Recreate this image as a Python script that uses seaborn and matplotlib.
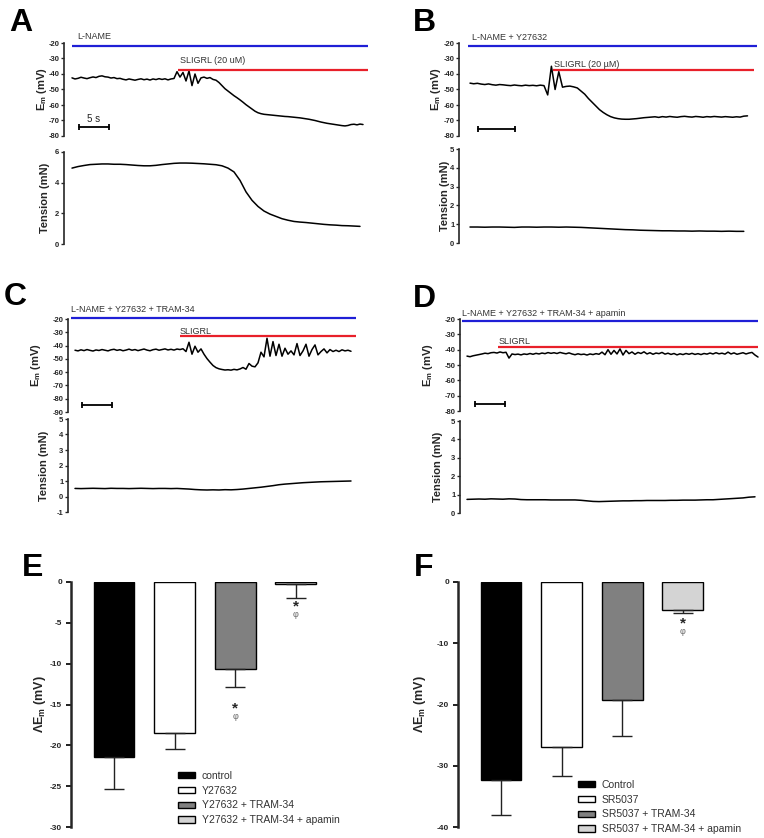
import numpy as np
import pandas as pd
import matplotlib
matplotlib.use("Agg")
import matplotlib.pyplot as plt
import seaborn as sns

# ---------------- data ----------------
EM_DT = 0.5    # s between membrane potential samples
TEN_DT = 1.0   # s between tension samples

# Em traces (mV)
em_a = [-42.5, -43.2, -42.8, -42.1, -42.6, -43.0, -42.4, -41.9, -42.3, -41.5,
        -41.2, -41.8, -42.0, -42.6, -42.3, -43.0, -42.8, -43.4, -43.8, -43.2,
        -43.6, -44.0, -43.5, -43.1, -43.7, -43.3, -43.9, -43.2, -43.6, -43.0,
        -43.5, -43.1, -43.8, -43.2, -42.9,
        -38.5, -42.0, -39.0, -44.5, -38.0, -47.5, -40.0, -46.0,
        -42.5, -42.0, -42.8, -42.3, -43.5, -44.0,
        -45.5, -47.5, -49.5, -51.0, -52.5, -54.0, -55.3, -56.7, -58.2, -59.8,
        -61.2, -62.6, -64.0, -65.0, -65.6, -66.0,
        -66.2, -66.4, -66.6, -66.8, -67.0, -67.2, -67.4, -67.5, -67.7, -67.9,
        -68.1, -68.3, -68.6, -68.9, -69.2, -69.6, -70.0, -70.5, -71.0, -71.4,
        -71.8, -72.1, -72.4, -72.7, -73.0, -73.3, -73.5, -73.2, -72.6, -72.4,
        -72.8, -72.3, -72.6]
em_b = [-45.9, -46.3, -46.0, -46.5, -46.8, -46.4, -46.9, -47.2, -46.8, -47.0,
        -47.3, -47.5, -47.1, -47.4, -47.6, -47.2, -47.5, -47.3, -47.6, -47.2,
        -47.5,
        -53.5, -35.0, -50.0, -38.5, -48.5, -48.0, -47.8, -48.3, -49.0, -51.0,
        -53.0, -55.8, -58.2, -60.6, -63.0, -64.8, -66.3, -67.5, -68.3, -68.8,
        -69.1, -69.2, -69.2, -69.0, -68.8, -68.5, -68.2, -68.0,
        -67.8, -67.6, -68.0, -67.5, -67.8, -67.4, -67.7, -67.9, -67.5, -67.3,
        -67.6, -67.8, -67.4, -67.6, -67.9, -67.5, -67.7, -67.4, -67.6, -67.8,
        -67.5, -67.7, -67.9, -67.6, -67.8, -67.2, -67.0]
em_c = [-43.5, -44.0, -43.2, -43.8, -43.0, -43.6, -44.1, -43.3, -43.7, -43.0,
        -43.5, -44.0, -43.2, -42.8, -43.6, -43.1, -43.9, -43.4, -42.7, -43.5,
        -43.0, -43.8, -43.2, -42.6, -43.4, -43.9, -43.1, -42.7, -43.5, -43.0,
        -42.5, -43.3, -42.8, -43.4, -42.6, -43.0, -42.4,
        -44.5, -37.5, -46.5, -40.5, -45.0, -42.5,
        -46.5, -49.8, -52.5, -55.0, -56.6, -57.5, -58.0, -58.4, -58.2, -58.5,
        -57.9, -58.3, -57.6, -56.5, -57.8, -53.5, -55.5, -56.0, -53.0, -45.0,
        -48.5, -34.5, -48.0, -37.0, -47.5, -39.0, -48.0, -42.0, -46.5, -44.0,
        -47.0, -38.5, -47.5, -44.0, -39.0, -48.0, -43.0, -39.5, -47.0, -44.5,
        -42.5, -45.5, -43.0, -44.5, -43.5, -44.5, -43.2, -44.0, -43.5, -44.3]
em_d = [-44.2, -44.6, -44.0, -43.6, -43.2, -42.8, -42.3, -42.6, -42.0, -41.8,
        -42.2, -41.5, -42.0, -41.7, -45.5, -42.8, -43.2, -42.9, -43.4, -42.8,
        -43.1, -42.5, -43.0, -42.4, -42.8, -42.2, -42.6, -41.9, -42.4, -42.0,
        -42.5, -41.8, -42.3, -42.7, -42.1, -42.8, -43.3, -42.7, -43.2, -42.9,
        -43.5, -42.8, -43.2, -42.6, -43.0, -41.6, -43.3, -40.0, -43.0, -40.5,
        -42.8, -39.5, -43.5, -40.5, -42.6, -41.5, -43.0, -41.8, -42.5, -41.4,
        -42.8, -42.0, -43.0, -42.2, -42.6, -41.8, -42.9, -42.3, -43.1, -42.5,
        -43.4, -42.7, -43.2, -42.5, -43.0, -42.4, -43.1, -42.6, -43.2, -42.5,
        -42.9, -42.2, -42.8, -42.0, -42.7, -42.3, -42.9, -41.6, -42.8, -42.1,
        -43.0, -42.5, -42.0, -42.8, -42.2, -41.8, -43.5, -44.8]

# tension traces (mN)
ten_a = [4.95, 5.05, 5.12, 5.18, 5.20, 5.22, 5.22, 5.20, 5.20, 5.18,
         5.15, 5.12, 5.10, 5.10, 5.13, 5.18, 5.22, 5.26, 5.28, 5.28,
         5.27, 5.25, 5.23, 5.20, 5.17, 5.10, 4.95, 4.70, 4.15, 3.40,
         2.85, 2.45, 2.15, 1.95, 1.80, 1.65, 1.55, 1.47, 1.43, 1.40,
         1.36, 1.32, 1.28, 1.25, 1.23, 1.20, 1.19, 1.17, 1.15]
ten_b = [0.85, 0.85, 0.84, 0.85, 0.85, 0.84, 0.83, 0.85, 0.85, 0.84,
         0.85, 0.85, 0.84, 0.85, 0.84, 0.83, 0.81, 0.79, 0.77, 0.75,
         0.73, 0.71, 0.70, 0.68, 0.67, 0.66, 0.65, 0.65, 0.64, 0.64,
         0.63, 0.64, 0.63, 0.63, 0.62, 0.63, 0.62, 0.62]
ten_c = [0.52, 0.51, 0.52, 0.53, 0.52, 0.51, 0.53, 0.52, 0.52, 0.51,
         0.52, 0.53, 0.52, 0.51, 0.52, 0.52, 0.51, 0.52, 0.50, 0.48,
         0.45, 0.43, 0.42, 0.43, 0.42, 0.44, 0.43, 0.45, 0.48, 0.52,
         0.56, 0.60, 0.65, 0.70, 0.76, 0.80, 0.83, 0.86, 0.89, 0.91,
         0.93, 0.95, 0.96, 0.97, 0.98, 0.99, 1.00]
ten_d = [0.74, 0.75, 0.76, 0.75, 0.77, 0.76, 0.75, 0.77, 0.76, 0.73,
         0.72, 0.72, 0.72, 0.72, 0.71, 0.71, 0.71, 0.71, 0.71, 0.69,
         0.66, 0.63, 0.62, 0.63, 0.64, 0.65, 0.66, 0.66, 0.67, 0.67,
         0.68, 0.68, 0.68, 0.68, 0.69, 0.69, 0.70, 0.70, 0.70, 0.71,
         0.72, 0.72, 0.74, 0.76, 0.78, 0.80, 0.82, 0.86, 0.88]

# drug application periods (s from trace start)
lname_a = [0.0, 49.3]
lname_b = [-0.3, 38.8]
lname_c = [-0.7, 46.8]
lname_d = [-0.8, 48.5]
sligrl_a = [17.7, 49.3]
sligrl_b = [11.2, 38.4]
sligrl_c = [17.5, 46.8]
sligrl_d = [5.2, 48.5]
lname_text = ["L-NAME", "L-NAME + Y27632", "L-NAME + Y27632 + TRAM-34",
              "L-NAME + Y27632 + TRAM-34 + apamin"]
sligrl_text = ["SLIGRL (20 uM)", "SLIGRL (20 \u00b5M)", "SLIGRL", "SLIGRL"]
SCALE_S = 5

# summary bars (mean, SEM of the hyperpolarisation)
e_groups = ["control", "Y27632", "Y27632 + TRAM-34", "Y27632 + TRAM-34 + apamin"]
e_mean = [-21.4, -18.5, -10.6, -0.2]
e_sem = [3.9, 2.0, 2.3, 1.7]
f_groups = ["Control", "SR5037", "SR5037 + TRAM-34", "SR5037 + TRAM-34 + apamin"]
f_mean = [-32.4, -26.9, -19.2, -4.5]
f_sem = [5.6, 4.7, 5.9, 0.5]
bar_colors = ["black", "white", "#808080", "#d4d4d4"]

# ---------------- style ----------------
sns.set_style("ticks")
plt.rcParams["font.family"] = ["Liberation Sans", "DejaVu Sans"]
plt.rcParams["mathtext.fontset"] = "custom"
plt.rcParams["mathtext.rm"] = "Liberation Sans"
plt.rcParams["mathtext.bf"] = "Liberation Sans:bold"
plt.rcParams["mathtext.default"] = "bf"
plt.rcParams["axes.unicode_minus"] = False

W, H = 764, 838
fig = plt.figure(figsize=(W / 100, H / 100), dpi=100)
PT = 0.72  # points per pixel


def px_axes(x0, y0, x1, y1):
    return fig.add_axes([x0 / W, 1 - y1 / H, (x1 - x0) / W, (y1 - y0) / H])


def left_only(ax, lo, hi, ticks, size, lw, length, pad):
    for s in ["top", "right", "bottom"]:
        ax.spines[s].set_visible(False)
    ax.spines["left"].set_linewidth(lw)
    ax.spines["left"].set_bounds(lo, hi)
    ax.set_ylim(lo, hi)
    ax.set_xticks([])
    ax.set_yticks(ticks)
    ax.set_yticklabels([str(t) for t in ticks])
    ax.tick_params(axis="y", length=length, width=lw * 0.8, labelsize=size, pad=pad)
    for lbl in ax.get_yticklabels():
        lbl.set_fontweight("bold")
    ax.patch.set_visible(False)


# layout of the four trace panels (pixels)
layouts = [
    dict(letter="A", lx=9, ly=8, spine=64, right=372, start=72, pxps=6.0,
         em=(43, 136, -80, -20, 10), ten=(152, 244, 0, 6, 2),
         blue=-21.7, red=-37.3, bar=(1.17, -74.4), em_lab=-15, ten_lab=-14,
         ltxt=(5, 6.5), stxt=(2, 6.5)),
    dict(letter="B", lx=413, ly=8, spine=459, right=760, start=470, pxps=7.4,
         em=(43, 136, -80, -20, 10), ten=(149, 243, 0, 5, 1),
         blue=-21.7, red=-37.3, bar=(1.08, -75.7), em_lab=-16, ten_lab=-9,
         ltxt=(4, 6), stxt=(1, 3.3)),
    dict(letter="C", lx=4, ly=282, spine=68, right=372, start=75, pxps=6.0,
         em=(319, 412, -90, -20, 10), ten=(419, 512, -1, 5, 1),
         blue=-19.2, red=-33.1, bar=(1.17, -84.4), em_lab=-25, ten_lab=-19,
         ltxt=(0, 5.6), stxt=(0, 2.7)),
    dict(letter="D", lx=413, ly=284, spine=460, right=762, start=467, pxps=6.0,
         em=(319, 411, -80, -20, 10), ten=(421, 513, 0, 5, 1),
         blue=-21.3, red=-38.1, bar=(1.33, -75.2), em_lab=-25, ten_lab=-17,
         ltxt=(0, 5), stxt=(0, 2.7)),
]
em_all = [em_a, em_b, em_c, em_d]
ten_all = [ten_a, ten_b, ten_c, ten_d]
lname_all = [lname_a, lname_b, lname_c, lname_d]
sligrl_all = [sligrl_a, sligrl_b, sligrl_c, sligrl_d]


def trace_panel(i):
    lay = layouts[i]
    x0, x1 = lay["spine"], lay["right"]
    xlim = ((x0 - lay["start"]) / lay["pxps"], (x1 - lay["start"]) / lay["pxps"])
    em = pd.DataFrame({"t": np.arange(len(em_all[i])) * EM_DT, "v": em_all[i]})
    ten = pd.DataFrame({"t": np.arange(len(ten_all[i])) * TEN_DT, "v": ten_all[i]})

    # membrane potential
    top, bot, lo, hi, step = lay["em"]
    ax = px_axes(x0, top, x1, bot)
    sns.lineplot(data=em, x="t", y="v", ax=ax, color="black", lw=1.1,
                 estimator=None, sort=False)
    ax.set_xlim(*xlim)
    left_only(ax, lo, hi, list(range(hi, lo - 1, -step)), 5.5, 1.2, 2.5, 0.8)
    ax.set_xlabel("")
    ax.set_ylabel("E$_m$ (mV)", fontsize=8, fontweight="bold")
    ax.yaxis.set_label_coords(lay["em_lab"] / (x1 - x0), 0.5)

    ln, sg = lname_all[i], sligrl_all[i]
    ax.plot(ln, [lay["blue"]] * 2, color="#1f1fd6", lw=1.6, clip_on=False,
            solid_capstyle="butt")
    ax.plot(sg, [lay["red"]] * 2, color="#e8202a", lw=1.6, clip_on=False,
            solid_capstyle="butt")
    ax.annotate(lname_text[i], (ln[0], lay["blue"]),
                xytext=(lay["ltxt"][0] * PT, lay["ltxt"][1] * PT),
                textcoords="offset points", fontsize=6.5, color="#333333",
                ha="left", va="baseline", annotation_clip=False)
    ax.annotate(sligrl_text[i], (sg[0], lay["red"]),
                xytext=(lay["stxt"][0] * PT, lay["stxt"][1] * PT),
                textcoords="offset points", fontsize=6.5, color="#333333",
                ha="left", va="baseline", annotation_clip=False)

    # time scale bar
    bx, by = lay["bar"]
    ax.plot([bx, bx + SCALE_S], [by, by], color="black", lw=1.3, marker="|",
            ms=5, mew=1.3, clip_on=False)
    if i == 0:
        ax.annotate(f"{SCALE_S} s", (bx + SCALE_S / 2, by), xytext=(0, 3 * PT),
                    textcoords="offset points", fontsize=7, ha="center",
                    va="bottom", color="#222222")

    # tension
    top, bot, lo, hi, step = lay["ten"]
    ax2 = px_axes(x0, top, x1, bot)
    sns.lineplot(data=ten, x="t", y="v", ax=ax2, color="black", lw=1.1,
                 estimator=None, sort=False)
    ax2.set_xlim(*xlim)
    left_only(ax2, lo, hi, list(range(lo, hi + 1, step)), 5.5, 1.2, 2.5, 0.8)
    ax2.set_xlabel("")
    ax2.set_ylabel("Tension (mN)", fontsize=8, fontweight="bold")
    ax2.yaxis.set_label_coords(lay["ten_lab"] / (x1 - x0), 0.5)

    fig.text(lay["lx"] / W, 1 - lay["ly"] / H, lay["letter"], fontsize=23,
             fontweight="bold", ha="left", va="top", color="black")


for i in range(4):
    trace_panel(i)


# ---------------- bar panels ----------------
def bar_panel(letter, lxy, spine, c0, groups, mean, sem, ymin, step, marks,
              leg_xy, leg_space, lab_off):
    pitch = 60.6
    right = spine + 270
    ax = px_axes(spine, 582, right, 827)
    df = pd.DataFrame({"group": groups, "dEm": mean})
    sns.barplot(data=df, x="group", y="dEm", hue="group", palette=bar_colors,
                edgecolor="black", linewidth=1.0, width=0.675, ax=ax,
                legend=False, errorbar=None)
    ax.errorbar(range(len(mean)), mean, yerr=[sem, [0] * len(sem)], fmt="none",
                ecolor="#222222", elinewidth=1.0, capsize=7.5, capthick=1.0,
                zorder=3)
    lo = -(c0 - spine) / pitch
    ax.set_xlim(lo, lo + (right - spine) / pitch)
    left_only(ax, ymin, 0, list(range(0, ymin - 1, -step)), 6, 1.8, 3.5, 3)
    ax.set_xlabel("")
    ax.set_ylabel("\u039bE$_m$ (mV)", fontsize=9, fontweight="bold")
    ax.yaxis.set_label_coords(lab_off / (right - spine), 0.5)

    # significance marks: star over phi
    for x, ys, yp in marks:
        ax.annotate("*", (x, ys), xytext=(0, -0.55 * 11), textcoords="offset points",
                    fontsize=11, fontweight="bold", ha="center", va="baseline")
        ax.annotate("\u03c6", (x, yp), xytext=(0, -0.3 * 6.5), textcoords="offset points",
                    fontsize=6.5, color="#666666", ha="center", va="baseline")

    ax.legend(handles=list(ax.patches)[:len(groups)], labels=groups,
              loc="upper left", bbox_to_anchor=(leg_xy[0] / W, 1 - leg_xy[1] / H),
              bbox_transform=fig.transFigure, frameon=False, fontsize=7.5,
              labelcolor="#333333", handlelength=1.6, handleheight=0.55,
              handletextpad=0.7, labelspacing=leg_space, borderpad=0,
              borderaxespad=0)
    fig.text(lxy[0] / W, 1 - lxy[1] / H, letter, fontsize=23, fontweight="bold",
             ha="left", va="top", color="black")


bar_panel("E", (22, 553), 71, 114, e_groups, e_mean, e_sem, -30, 5,
          [(2, -15.0, -16.5), (3, -2.5, -3.9)], (178, 771), 0.45, -23)
bar_panel("F", (414, 553), 458, 501, f_groups, f_mean, f_sem, -40, 10,
          [(3, -6.1, -8.0)], (578, 780), 0.45, -30)

fig.savefig("out.png", dpi=100)
